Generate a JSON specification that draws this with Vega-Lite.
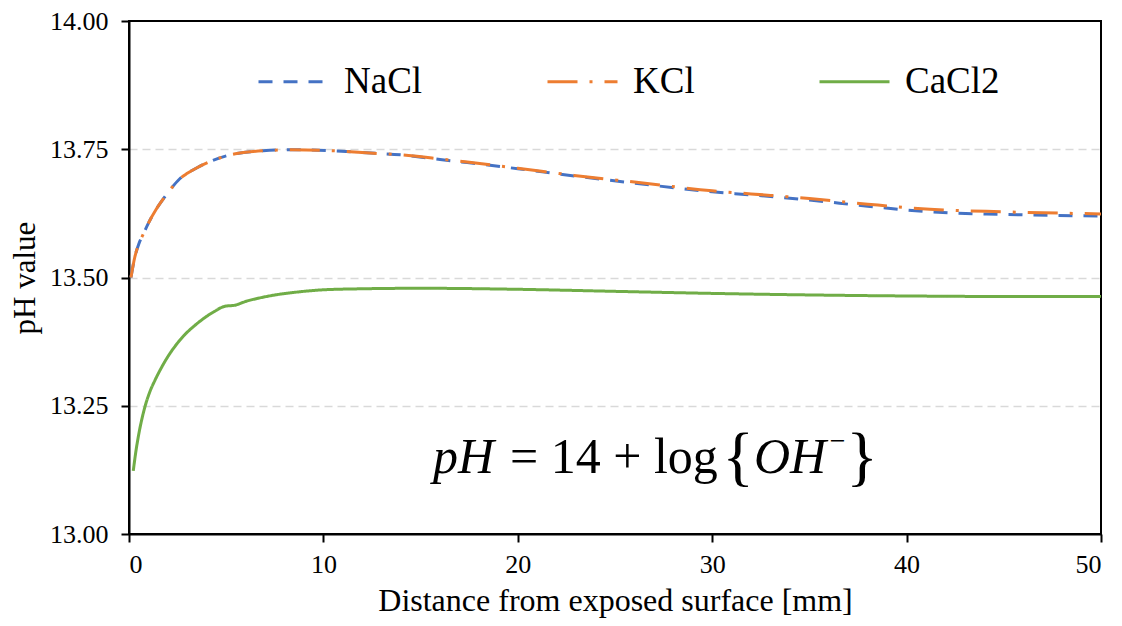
{
  "$schema": "https://vega.github.io/schema/vega-lite/v6.json",
  "width": 972,
  "height": 513,
  "autosize": {"type": "none"},
  "padding": {"left": 129, "top": 21, "right": 21, "bottom": 92},
  "background": "white",
  "resolve": {"axis": {"x": "independent", "y": "independent"}},
  "config": {
    "font": "Liberation Serif",
    "view": {"stroke": "black", "strokeWidth": 2},
    "style": {"guide-label": {"font": "Liberation Serif"}, "guide-title": {"font": "Liberation Serif"}},
    "axis": {
      "labelFont": "Liberation Serif",
      "titleFont": "Liberation Serif",
      "labelColor": "black",
      "titleColor": "black",
      "titleFontWeight": "normal",
      "domainColor": "black",
      "domainWidth": 2,
      "tickColor": "black",
      "tickWidth": 2,
      "tickSize": 8,
      "labelFontSize": 26
    },
    "axisX": {"labelPadding": 9, "titleFontSize": 32, "titlePadding": 8, "grid": false},
    "axisY": {"labelPadding": 13, "titleFontSize": 31, "titlePadding": 8},
    "legend": {
      "orient": "none",
      "legendX": 128,
      "legendY": 24,
      "direction": "horizontal",
      "symbolType": "stroke",
      "symbolSize": 4900,
      "symbolStrokeWidth": 3,
      "labelFont": "Liberation Serif",
      "labelFontSize": 37,
      "labelColor": "black",
      "labelOffset": 14,
      "columnPadding": 118,
      "title": null
    }
  },
  "layer": [
    {
      "data": {
        "values": [
          {"series": "NaCl", "x": 0.1, "y": 13.5},
          {"series": "NaCl", "x": 0.3, "y": 13.54},
          {"series": "NaCl", "x": 0.5, "y": 13.565},
          {"series": "NaCl", "x": 0.74, "y": 13.585},
          {"series": "NaCl", "x": 1.0, "y": 13.606},
          {"series": "NaCl", "x": 1.4, "y": 13.633},
          {"series": "NaCl", "x": 1.8, "y": 13.655},
          {"series": "NaCl", "x": 2.2, "y": 13.675},
          {"series": "NaCl", "x": 2.6, "y": 13.692},
          {"series": "NaCl", "x": 3.0, "y": 13.703},
          {"series": "NaCl", "x": 3.5, "y": 13.714},
          {"series": "NaCl", "x": 4.3, "y": 13.728},
          {"series": "NaCl", "x": 5.2, "y": 13.739},
          {"series": "NaCl", "x": 6.0, "y": 13.744},
          {"series": "NaCl", "x": 6.9, "y": 13.747},
          {"series": "NaCl", "x": 8.4, "y": 13.749},
          {"series": "NaCl", "x": 10.5, "y": 13.747},
          {"series": "NaCl", "x": 12.2, "y": 13.743},
          {"series": "NaCl", "x": 14.0, "y": 13.739},
          {"series": "NaCl", "x": 16.0, "y": 13.73},
          {"series": "NaCl", "x": 17.4, "y": 13.724},
          {"series": "NaCl", "x": 20.0, "y": 13.712},
          {"series": "NaCl", "x": 22.9, "y": 13.698},
          {"series": "NaCl", "x": 26.0, "y": 13.684},
          {"series": "NaCl", "x": 30.0, "y": 13.667},
          {"series": "NaCl", "x": 32.0, "y": 13.661},
          {"series": "NaCl", "x": 35.0, "y": 13.651},
          {"series": "NaCl", "x": 38.0, "y": 13.639},
          {"series": "NaCl", "x": 41.2, "y": 13.628},
          {"series": "NaCl", "x": 45.0, "y": 13.623},
          {"series": "NaCl", "x": 50.0, "y": 13.62},
          {"series": "KCl", "x": 0.1, "y": 13.5},
          {"series": "KCl", "x": 0.3, "y": 13.54},
          {"series": "KCl", "x": 0.5, "y": 13.565},
          {"series": "KCl", "x": 0.74, "y": 13.585},
          {"series": "KCl", "x": 1.0, "y": 13.606},
          {"series": "KCl", "x": 1.4, "y": 13.633},
          {"series": "KCl", "x": 1.8, "y": 13.655},
          {"series": "KCl", "x": 2.2, "y": 13.675},
          {"series": "KCl", "x": 2.6, "y": 13.692},
          {"series": "KCl", "x": 3.0, "y": 13.703},
          {"series": "KCl", "x": 3.5, "y": 13.714},
          {"series": "KCl", "x": 4.3, "y": 13.728},
          {"series": "KCl", "x": 5.2, "y": 13.739},
          {"series": "KCl", "x": 6.0, "y": 13.744},
          {"series": "KCl", "x": 6.9, "y": 13.747},
          {"series": "KCl", "x": 8.4, "y": 13.749},
          {"series": "KCl", "x": 10.5, "y": 13.747},
          {"series": "KCl", "x": 12.2, "y": 13.743},
          {"series": "KCl", "x": 14.0, "y": 13.739},
          {"series": "KCl", "x": 16.0, "y": 13.731},
          {"series": "KCl", "x": 17.4, "y": 13.725},
          {"series": "KCl", "x": 20.0, "y": 13.713},
          {"series": "KCl", "x": 22.9, "y": 13.699},
          {"series": "KCl", "x": 26.0, "y": 13.686},
          {"series": "KCl", "x": 30.0, "y": 13.669},
          {"series": "KCl", "x": 32.0, "y": 13.663},
          {"series": "KCl", "x": 35.0, "y": 13.654},
          {"series": "KCl", "x": 38.0, "y": 13.643},
          {"series": "KCl", "x": 41.2, "y": 13.633},
          {"series": "KCl", "x": 45.0, "y": 13.628},
          {"series": "KCl", "x": 50.0, "y": 13.624},
          {"series": "CaCl2", "x": 0.22, "y": 13.123},
          {"series": "CaCl2", "x": 0.35, "y": 13.16},
          {"series": "CaCl2", "x": 0.48, "y": 13.19},
          {"series": "CaCl2", "x": 0.65, "y": 13.222},
          {"series": "CaCl2", "x": 0.82, "y": 13.248},
          {"series": "CaCl2", "x": 1.05, "y": 13.275},
          {"series": "CaCl2", "x": 1.34, "y": 13.3},
          {"series": "CaCl2", "x": 1.65, "y": 13.323},
          {"series": "CaCl2", "x": 2.02, "y": 13.347},
          {"series": "CaCl2", "x": 2.45, "y": 13.37},
          {"series": "CaCl2", "x": 2.88, "y": 13.389},
          {"series": "CaCl2", "x": 3.4, "y": 13.407},
          {"series": "CaCl2", "x": 3.91, "y": 13.422},
          {"series": "CaCl2", "x": 4.4, "y": 13.434},
          {"series": "CaCl2", "x": 4.94, "y": 13.444},
          {"series": "CaCl2", "x": 5.45, "y": 13.446},
          {"series": "CaCl2", "x": 5.97, "y": 13.453},
          {"series": "CaCl2", "x": 6.7, "y": 13.46},
          {"series": "CaCl2", "x": 7.51, "y": 13.466},
          {"series": "CaCl2", "x": 8.5, "y": 13.471},
          {"series": "CaCl2", "x": 10.0, "y": 13.476},
          {"series": "CaCl2", "x": 12.0, "y": 13.478},
          {"series": "CaCl2", "x": 15.0, "y": 13.479},
          {"series": "CaCl2", "x": 20.0, "y": 13.477},
          {"series": "CaCl2", "x": 25.0, "y": 13.473},
          {"series": "CaCl2", "x": 30.0, "y": 13.469},
          {"series": "CaCl2", "x": 35.0, "y": 13.466},
          {"series": "CaCl2", "x": 40.0, "y": 13.464},
          {"series": "CaCl2", "x": 45.0, "y": 13.463},
          {"series": "CaCl2", "x": 50.0, "y": 13.463}
        ]
      },
      "mark": {"type": "line", "strokeWidth": 3, "interpolate": "monotone", "clip": true},
      "encoding": {
        "x": {
          "field": "x",
          "type": "quantitative",
          "scale": {"domain": [0, 50], "nice": false, "zero": false},
          "axis": {
            "values": [0, 10, 20, 30, 40, 50],
            "title": "Distance from exposed surface [mm]",
            "labelFont": "Liberation Serif",
            "titleFont": "Liberation Serif",
            "titleFontSize": 32,
            "titlePadding": 8,
            "labelFontSize": 26,
            "labelPadding": 9,
            "grid": false
          }
        },
        "y": {
          "field": "y",
          "type": "quantitative",
          "scale": {"domain": [13, 14], "nice": false, "zero": false},
          "axis": {
            "values": [13, 13.25, 13.5, 13.75, 14],
            "format": ".2f",
            "title": "pH value",
            "labelFont": "Liberation Serif",
            "titleFont": "Liberation Serif",
            "titleFontSize": 31,
            "titlePadding": 8,
            "labelFontSize": 26,
            "labelPadding": 13,
            "grid": true,
            "gridColor": "#D9D9D9",
            "gridWidth": 1.5,
            "gridDash": [8, 5],
            "gridOpacity": {"condition": {"test": "datum.value >= 14 || datum.value <= 13", "value": 0}, "value": 1}
          }
        },
        "color": {
          "field": "series",
          "type": "nominal",
          "sort": ["NaCl", "KCl", "CaCl2"],
          "scale": {"domain": ["NaCl", "KCl", "CaCl2"], "range": ["#4472C4", "#ED7D31", "#70AD47"]}
        },
        "strokeDash": {
          "field": "series",
          "type": "nominal",
          "sort": ["NaCl", "KCl", "CaCl2"],
          "scale": {"domain": ["NaCl", "KCl", "CaCl2"], "range": [[14, 11], [30, 12, 3, 12], [1, 0]]}
        }
      }
    },
    {
      "data": {"values": [{"x": 15.64, "y": 13.119, "t": "pH"}, {"x": 32.15, "y": 13.119, "t": "OH"}]},
      "mark": {"type": "text", "align": "left", "baseline": "alphabetic", "font": "Liberation Serif", "fontStyle": "italic", "fontSize": 50, "color": "black"},
      "encoding": {"x": {"field": "x", "type": "quantitative", "axis": null}, "y": {"field": "y", "type": "quantitative", "axis": null}, "text": {"field": "t"}}
    },
    {
      "data": {"values": [{"x": 19.6, "y": 13.119, "t": "= 14 + log"}]},
      "mark": {"type": "text", "align": "left", "baseline": "alphabetic", "font": "Liberation Serif", "fontSize": 50, "color": "black"},
      "encoding": {"x": {"field": "x", "type": "quantitative", "axis": null}, "y": {"field": "y", "type": "quantitative", "axis": null}, "text": {"field": "t"}}
    },
    {
      "data": {"values": [{"x": 32.15, "y": 13.109, "t": "{"}]},
      "mark": {"type": "text", "align": "right", "baseline": "alphabetic", "font": "Liberation Serif", "fontSize": 66, "color": "black"},
      "encoding": {"x": {"field": "x", "type": "quantitative", "axis": null}, "y": {"field": "y", "type": "quantitative", "axis": null}, "text": {"field": "t"}}
    },
    {
      "data": {"values": [{"x": 36.9, "y": 13.109, "t": "}"}]},
      "mark": {"type": "text", "align": "left", "baseline": "alphabetic", "font": "Liberation Serif", "fontSize": 66, "color": "black"},
      "encoding": {"x": {"field": "x", "type": "quantitative", "axis": null}, "y": {"field": "y", "type": "quantitative", "axis": null}, "text": {"field": "t"}}
    },
    {
      "data": {"values": [{"x": 36.05, "y": 13.164, "t": "−"}]},
      "mark": {"type": "text", "align": "left", "baseline": "alphabetic", "font": "Liberation Serif", "fontSize": 28, "color": "black"},
      "encoding": {"x": {"field": "x", "type": "quantitative", "axis": null}, "y": {"field": "y", "type": "quantitative", "axis": null}, "text": {"field": "t"}}
    }
  ]
}
